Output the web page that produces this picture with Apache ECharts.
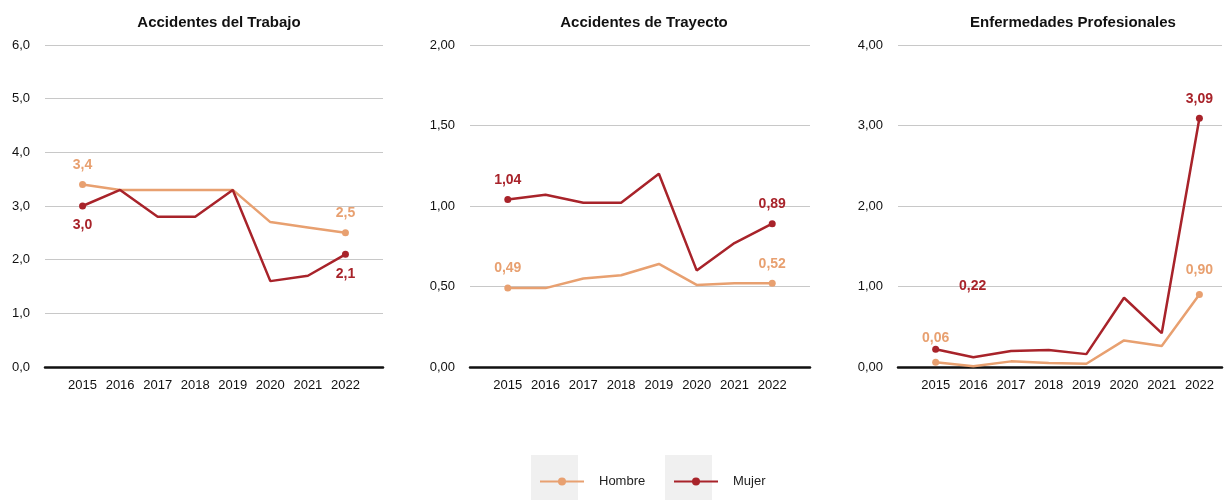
<!DOCTYPE html>
<html><head><meta charset="utf-8">
<script src="https://cdn.jsdelivr.net/npm/echarts@6/dist/echarts.min.js"></script>
<style>body{margin:0}#c{width:1225px;height:500px}</style></head>
<body><div id="c"></div>
<script>
var years = [2015, 2016, 2017, 2018, 2019, 2020, 2021, 2022];
var titles = ['Accidentes del Trabajo', 'Accidentes de Trayecto', 'Enfermedades Profesionales'];
var hombre1 = [3.4, 3.3, 3.3, 3.3, 3.3, 2.7, 2.6, 2.5];
var mujer1 = [3.0, 3.3, 2.8, 2.8, 3.3, 1.6, 1.7, 2.1];
var hombre2 = [0.49, 0.49, 0.55, 0.57, 0.64, 0.51, 0.52, 0.52];
var mujer2 = [1.04, 1.07, 1.02, 1.02, 1.20, 0.60, 0.77, 0.89];
var hombre3 = [0.06, 0.01, 0.07, 0.05, 0.04, 0.33, 0.26, 0.90];
var mujer3 = [0.22, 0.12, 0.20, 0.21, 0.16, 0.86, 0.42, 3.09];
var yMax = [6, 2, 4];
var yStep = [1, 0.5, 1];
var decimals = [1, 2, 2];

var cH = '#e8a070', cM = '#a8232a';
var lefts = [45, 470, 898];
var rights = [842, 415, 3];
var xMax = [2023, 2023, 2022.6];
var grids = [], xAxes = [], yAxes = [], series = [], titleArr = [];

function pairs(v) { return years.map(function (y, i) { return [y, v[i]]; }); }

function mk(idx, name, color, vals, pos, dist, firstOffset) {
  var d = decimals[idx];
  return {
    name: name, type: 'line', xAxisIndex: idx, yAxisIndex: idx,
    data: pairs(vals), color: color, lineStyle: { width: 2.5, color: color },
    symbol: 'circle',
    symbolSize: function (v, p) { return (p.dataIndex === 0 || p.dataIndex === 7) ? 7 : 0; },
    label: {
      show: true, position: pos, distance: dist, fontWeight: 'bold', fontSize: 14, color: color,
      formatter: function (p) {
        if (p.dataIndex !== 0 && p.dataIndex !== 7) return '';
        return p.value[1].toFixed(d).replace('.', ',');
      }
    },
    labelLayout: firstOffset ? function (p) {
      return p.dataIndex === 0 ? { dx: firstOffset[0], dy: firstOffset[1] } : {};
    } : null
  };
}

for (var i = 0; i < 3; i++) {
  grids.push({ left: lefts[i], right: rights[i], top: 45, bottom: 133 });
  titleArr.push({ text: titles[i], left: (i === 2 ? 1068 : lefts[i] + 169), top: 10, textAlign: 'center',
    textStyle: { fontSize: 15, fontWeight: 'bold', color: '#111' } });
  xAxes.push({ type: 'value', gridIndex: i, min: 2014, max: xMax[i], interval: 1,
    splitLine: { show: false }, axisTick: { show: false },
    axisLine: { lineStyle: { color: '#111', width: 2.5 } },
    axisLabel: { color: '#111', fontSize: 13, margin: 12, showMaxLabel: true,
      formatter: function (v) { return (v < 2015 || v > 2022) ? '' : v; } } });
  (function (d) {
    yAxes.push({ type: 'value', gridIndex: i, min: 0, max: yMax[i], interval: yStep[i],
      axisLine: { show: false }, axisTick: { show: false },
      splitLine: { lineStyle: { color: '#c8c8c8' } },
      axisLabel: { color: '#111', fontSize: 13, margin: 15,
        formatter: function (v) { return v.toFixed(d).replace('.', ','); } } });
  })(decimals[i]);
}
series.push(mk(0, 'Hombre', cH, hombre1, 'top', 9));
series.push(mk(0, 'Mujer', cM, mujer1, 'bottom', 9));
series.push(mk(1, 'Hombre', cH, hombre2, 'top', 9));
series.push(mk(1, 'Mujer', cM, mujer2, 'top', 9));
series.push(mk(2, 'Hombre', cH, hombre3, 'top', 14));
series.push(mk(2, 'Mujer', cM, mujer3, 'top', 9, [37, -44]));

var legendText = { fontSize: 13, color: '#222', padding: [0, 0, 0, 10] };
var chart = echarts.init(document.getElementById('c'));
chart.setOption({
  animation: false,
  title: titleArr,
  grid: grids, xAxis: xAxes, yAxis: yAxes, series: series,
  graphic: [
    { type: 'rect', z: -1, shape: { x: 531, y: 455, width: 47, height: 45 }, style: { fill: '#f0f0f0' } },
    { type: 'rect', z: -1, shape: { x: 665, y: 455, width: 47, height: 45 }, style: { fill: '#f0f0f0' } }
  ],
  legend: [
    { left: 534, top: 470, itemWidth: 44, itemHeight: 10, data: ['Hombre'], textStyle: legendText },
    { left: 668, top: 470, itemWidth: 44, itemHeight: 10, data: ['Mujer'], textStyle: legendText }
  ]
});
</script></body></html>
